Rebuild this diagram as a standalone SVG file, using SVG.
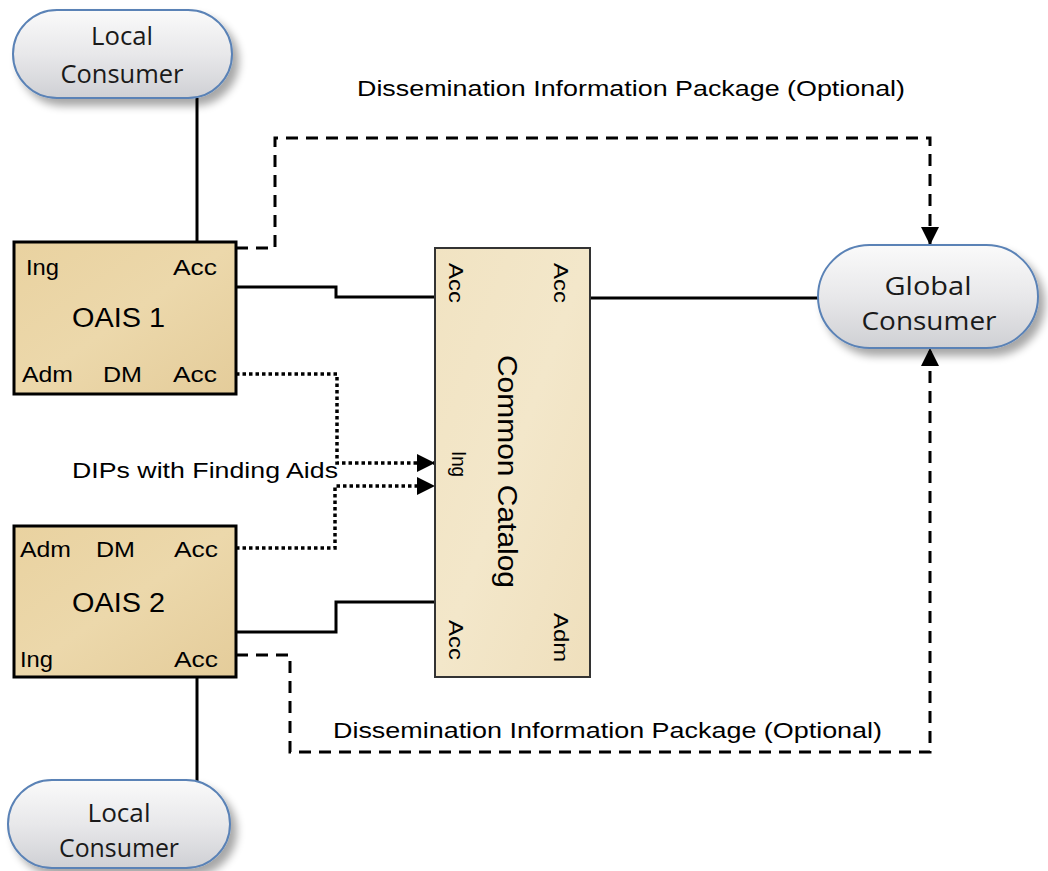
<svg xmlns="http://www.w3.org/2000/svg" width="1048" height="871" viewBox="0 0 1048 871">
<defs>
<linearGradient id="pill" x1="0" y1="0" x2="0" y2="1">
<stop offset="0" stop-color="#fafafa"/>
<stop offset="0.5" stop-color="#e8e8ea"/>
<stop offset="1" stop-color="#cfd0d4"/>
</linearGradient>
<linearGradient id="parch" x1="0" y1="0" x2="1" y2="1">
<stop offset="0" stop-color="#e9d2a0"/>
<stop offset="0.5" stop-color="#ecd8ab"/>
<stop offset="1" stop-color="#e4cc9a"/>
</linearGradient>
<linearGradient id="parch2" x1="0" y1="0" x2="1" y2="1">
<stop offset="0" stop-color="#f1e3c2"/>
<stop offset="0.5" stop-color="#f3e7ca"/>
<stop offset="1" stop-color="#efdfbc"/>
</linearGradient>
<filter id="shadow" x="-20%" y="-20%" width="150%" height="160%">
<feGaussianBlur in="SourceAlpha" stdDeviation="4"/>
<feOffset dx="6" dy="7" result="b"/>
<feComponentTransfer><feFuncA type="linear" slope="0.35"/></feComponentTransfer>
<feMerge><feMergeNode/><feMergeNode in="SourceGraphic"/></feMerge>
</filter>
<marker id="arrow" viewBox="0 0 10 10" refX="10" refY="5" markerWidth="18" markerHeight="18" markerUnits="userSpaceOnUse" orient="auto">
<path d="M0,0 L10,5 L0,10 z" fill="#000"/>
</marker>
</defs>
<style>
.pill{fill:url(#pill);stroke:#5a82b6;stroke-width:2;filter:url(#shadow)}
.ptxt{font-family:"Open Sans","Noto Sans",sans-serif;font-size:25px;fill:#1a1a1a;text-anchor:middle}
.box{fill:url(#parch);stroke:#000;stroke-width:3}
.cbox{fill:url(#parch2);stroke:#333;stroke-width:2}
.lbl{font-family:"Liberation Sans",Arial,sans-serif;font-size:22px;fill:#000}
.big{font-family:"Liberation Sans",Arial,sans-serif;font-size:27px;fill:#000}
.rl{font-family:"Liberation Sans",Arial,sans-serif;font-size:20px;fill:#000}
.solid{fill:none;stroke:#000;stroke-width:3}
.dash{fill:none;stroke:#000;stroke-width:3;stroke-dasharray:12 8}
.dot{fill:none;stroke:#000;stroke-width:3.5;stroke-dasharray:3.5 3}
.note{font-family:"Liberation Sans",Arial,sans-serif;font-size:22px;fill:#000}
</style>

<g id="connectors">
<path class="solid" d="M197,98 V242"/>
<path class="solid" d="M197,677 V782"/>
<path class="solid" d="M236,287 H336 V297 H435"/>
<path class="solid" d="M236,632 H336 V602 H435"/>
<path class="solid" d="M590,298 H818"/>
<path class="dash" d="M236,248 H275 V138 H930 V245" marker-end="url(#arrow)"/>
<path class="dash" d="M236,655 H290 V752 H930 V348" marker-end="url(#arrow)"/>
<path class="dot" d="M236,374 H337 V463 H435" marker-end="url(#arrow)"/>
<path class="dot" d="M236,548 H335 V486 H435" marker-end="url(#arrow)"/>
</g>

<g id="local-consumer-1">
<rect class="pill" x="13" y="10" width="219" height="88" rx="44" ry="44"/>
<text class="ptxt" x="122" y="45" textLength="62" lengthAdjust="spacingAndGlyphs">Local</text>
<text class="ptxt" x="122" y="83" textLength="123" lengthAdjust="spacingAndGlyphs">Consumer</text>
</g>

<g id="local-consumer-2">
<rect class="pill" x="8" y="780" width="222" height="88" rx="44" ry="44"/>
<text class="ptxt" x="119" y="822" textLength="63" lengthAdjust="spacingAndGlyphs">Local</text>
<text class="ptxt" x="119" y="857" textLength="120" lengthAdjust="spacingAndGlyphs">Consumer</text>
</g>

<g id="global-consumer">
<rect class="pill" x="818" y="245" width="220" height="103" rx="51.5" ry="51.5"/>
<text class="ptxt" x="928" y="295" font-size="28" textLength="87" lengthAdjust="spacingAndGlyphs">Global</text>
<text class="ptxt" x="929" y="330" font-size="28" textLength="135" lengthAdjust="spacingAndGlyphs">Consumer</text>
</g>

<g id="oais-1">
<rect class="box" x="14" y="242" width="222" height="152"/>
<text class="lbl" x="26" y="275" textLength="33" lengthAdjust="spacingAndGlyphs">Ing</text>
<text class="lbl" x="173" y="275" textLength="44" lengthAdjust="spacingAndGlyphs">Acc</text>
<text class="big" x="72" y="327" textLength="93" lengthAdjust="spacingAndGlyphs">OAIS 1</text>
<text class="lbl" x="22" y="382" textLength="51" lengthAdjust="spacingAndGlyphs">Adm</text>
<text class="lbl" x="103" y="382" textLength="39" lengthAdjust="spacingAndGlyphs">DM</text>
<text class="lbl" x="173" y="382" textLength="44" lengthAdjust="spacingAndGlyphs">Acc</text>
</g>

<g id="oais-2">
<rect class="box" x="14" y="526" width="222" height="151"/>
<text class="lbl" x="20" y="557" textLength="51" lengthAdjust="spacingAndGlyphs">Adm</text>
<text class="lbl" x="96" y="557" textLength="39" lengthAdjust="spacingAndGlyphs">DM</text>
<text class="lbl" x="174" y="557" textLength="44" lengthAdjust="spacingAndGlyphs">Acc</text>
<text class="big" x="72" y="612" textLength="93" lengthAdjust="spacingAndGlyphs">OAIS 2</text>
<text class="lbl" x="20" y="667" textLength="33" lengthAdjust="spacingAndGlyphs">Ing</text>
<text class="lbl" x="174" y="667" textLength="44" lengthAdjust="spacingAndGlyphs">Acc</text>
</g>

<g id="common-catalog">
<rect class="cbox" x="435" y="248" width="155" height="429"/>
<text class="rl" transform="translate(449,263) rotate(90)" textLength="40" lengthAdjust="spacingAndGlyphs">Acc</text>
<text class="rl" transform="translate(554,263) rotate(90)" textLength="40" lengthAdjust="spacingAndGlyphs">Acc</text>
<text class="big" transform="translate(498,355) rotate(90)" font-size="28" textLength="233" lengthAdjust="spacingAndGlyphs">Common Catalog</text>
<text class="rl" transform="translate(452,451) rotate(90)" textLength="26" lengthAdjust="spacingAndGlyphs">Ing</text>
<text class="rl" transform="translate(449,620) rotate(90)" textLength="40" lengthAdjust="spacingAndGlyphs">Acc</text>
<text class="rl" transform="translate(554,613) rotate(90)" textLength="49" lengthAdjust="spacingAndGlyphs">Adm</text>
</g>

<g id="labels">
<text class="note" x="357" y="96" textLength="548" lengthAdjust="spacingAndGlyphs">Dissemination Information Package (Optional)</text>
<text class="note" x="333" y="738" textLength="549" lengthAdjust="spacingAndGlyphs">Dissemination Information Package (Optional)</text>
<text class="note" x="72" y="478" textLength="266" lengthAdjust="spacingAndGlyphs">DIPs with Finding Aids</text>
</g>
</svg>
